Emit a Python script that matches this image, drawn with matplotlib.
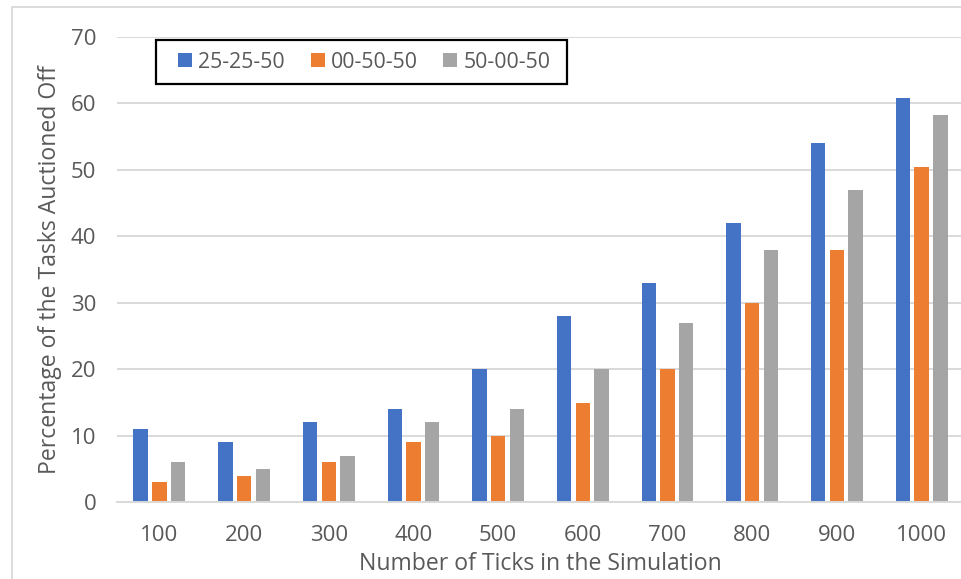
import matplotlib
matplotlib.use("Agg")
import matplotlib.pyplot as plt
from matplotlib.patches import Rectangle
import numpy as np

ticks = ["100", "200", "300", "400", "500", "600", "700", "800", "900", "1000"]
series_names = ["25-25-50", "00-50-50", "50-00-50"]
s_25_25_50 = [11, 9, 12, 14, 20, 28, 33, 42, 54, 60.8]
s_00_50_50 = [3, 4, 6, 9, 10, 15, 20, 30, 38, 50.4]
s_50_00_50 = [6, 5, 7, 12, 14, 20, 27, 38, 47, 58.3]
colors = ["#4472C4", "#ED7D31", "#A5A5A5"]

text_color = "#595959"
grid_color = "#D9D9D9"

plt.rcParams["font.family"] = ["Open Sans", "DejaVu Sans"]

W, H = 961, 579
fig = plt.figure(figsize=(W / 100, H / 100), dpi=100)

# outer chart frame (left and top edges visible)
fig.patches.append(Rectangle((11.7 / W, -0.1), 1.2, 1 - 7.3 / H + 0.1,
                             transform=fig.transFigure, fill=False,
                             edgecolor=grid_color, linewidth=1.3))

ax = fig.add_axes([117 / W, 76.7 / H, 847 / W, 465.6 / H])

x = np.arange(len(ticks))
step = 0.221
width = 0.17
for i, (vals, name, c) in enumerate(zip([s_25_25_50, s_00_50_50, s_50_00_50],
                                         series_names, colors)):
    ax.bar(x + (i - 1) * step, vals, width, color=c, label=name, zorder=3)

ax.set_xlim(-0.5, len(ticks) - 0.5)
ax.set_ylim(0, 70)
ax.set_yticks(np.arange(0, 71, 10))
ax.set_xticks(x)
ax.set_xticklabels(ticks)

ax.yaxis.grid(True, color=grid_color, linewidth=1.4, zorder=0)
for s in ["left", "right", "top"]:
    ax.spines[s].set_visible(False)
ax.spines["bottom"].set_color(grid_color)
ax.spines["bottom"].set_linewidth(1.4)
ax.spines["bottom"].set_zorder(4)

ax.tick_params(axis="both", length=0, labelsize=16, labelcolor=text_color)
ax.tick_params(axis="y", pad=15)
ax.tick_params(axis="x", pad=16)

ax.set_xlabel("Number of Ticks in the Simulation", fontsize=16.6,
              color=text_color, labelpad=5)
ax.set_ylabel("Percentage of the Tasks Auctioned Off", fontsize=16.6,
              color=text_color, labelpad=6)

# legend box
fig.patches.append(Rectangle((156 / W, 1 - 84 / H), (567 - 156) / W, 44 / H,
                             transform=fig.transFigure, facecolor="white",
                             edgecolor="black", linewidth=1.6, zorder=5))
leg = fig.legend(loc="center left", bbox_to_anchor=(178 / W, 1 - 62 / H),
                 ncol=3, fontsize=15.3, frameon=False,
                 handlelength=0.66, handleheight=0.62, handletextpad=0.3,
                 columnspacing=1.2, borderpad=0.0, borderaxespad=0.0,
                 labelcolor=text_color)
leg.set_zorder(6)

fig.savefig("out.png", dpi=100)
